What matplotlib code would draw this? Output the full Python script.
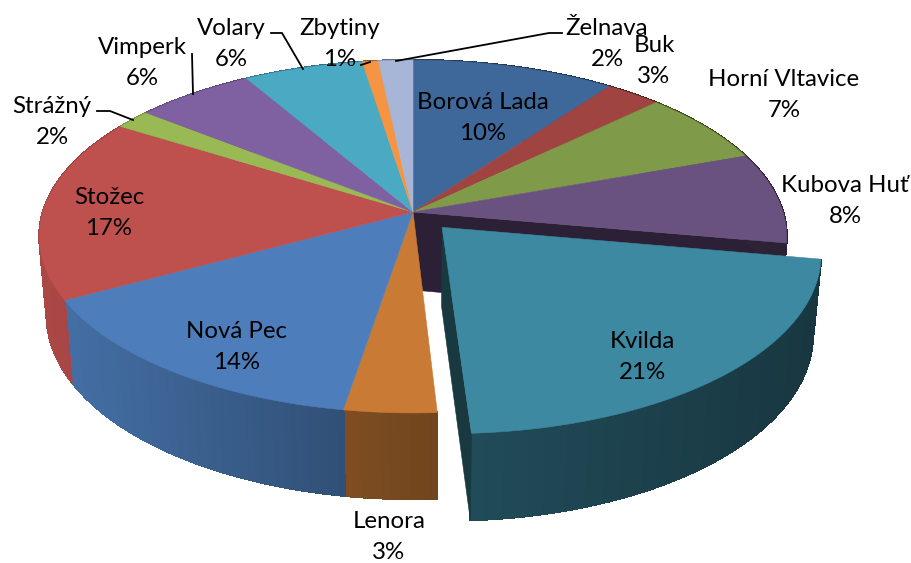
import numpy as np
import matplotlib
matplotlib.use("Agg")
import matplotlib.pyplot as plt
from matplotlib.colors import to_rgb

names = ["Borová Lada", "Buk", "Horní Vltavice", "Kubova Huť", "Kvilda", "Lenora", "Nová Pec",
         "Stožec", "Strážný", "Vimperk", "Volary", "Zbytiny", "Želnava"]
shares = [10.05, 2.75, 6.7, 8.3, 21.3, 3.5, 14.5, 16.8, 1.8, 5.9, 5.9, 0.8, 1.7]
percent_labels = ["10%", "3%", "7%", "8%", "21%", "3%", "14%", "17%", "2%", "6%", "6%", "1%", "2%"]
colors = ["#3F689A", "#A04442", "#7F9A48", "#69527F", "#3C89A1", "#C97B35", "#4D7EBB",
          "#BE504E", "#98B954", "#7F60A1", "#4AA9C3", "#F59443", "#A7B6D6"]

label_xy = [(483, 118), (654, 61), (784, 95), (845, 201), (642, 357), (389, 537), (237, 347),
            (109, 213), (52, 122), (142, 63), (231, 44), (340, 44), (607, 44)]
leaders = [[(97, 111), (110, 111), (133, 120)],
           [(192, 54), (193, 94)],
           [(271, 33), (282, 33), (303, 69)],
           [(361, 65), (370, 62)],
           [(396, 61), (549, 33), (562, 33)]]

CX, CY = 413, 212
A, B, K = 370, 173, 0.139
EXPLODE = 0.117
exploded = names.index("Kvilda")


def project(u, v):
    w = 1 + K * v
    return CX + A * u / w, CY - B * v / w


def drop(x, y):
    # point on the underside of the pie, below a point of the top face
    return CX + (x - CX) * 0.98, y + 78 + (y - CY) * 0.04


def shade(color, f):
    return tuple(c * f for c in to_rgb(color))


def wall_factor(x):
    return np.interp(x, [40, 345, 436, 470, 820], [0.9, 0.63, 0.56, 0.55, 0.4])


def wedge(start, end, du=0, dv=0):
    t = np.radians(np.linspace(start, end, max(int(end - start) * 2, 4)))
    return project(np.sin(t) + du, np.cos(t) + dv)


fig = plt.figure(figsize=(9.12, 5.63), dpi=100)
ax = fig.add_axes([0, 0, 1, 1])
ax.set_xlim(0, 912)
ax.set_ylim(563, 0)
ax.axis("off")

edges = np.cumsum([0] + shares) / sum(shares) * 360


def draw_wall(i, du=0, dv=0):
    x, y = wedge(edges[i], edges[i + 1], du, dv)
    xb, yb = drop(x, y)
    for j in range(len(x) - 1):
        c = shade(colors[i], wall_factor((x[j] + x[j + 1]) / 2))
        ax.fill([x[j], x[j + 1], xb[j + 1], xb[j]], [y[j], y[j + 1], yb[j + 1], yb[j]],
                color=c, lw=1.0, antialiased=False, zorder=2)


def draw_top(i, z, du=0, dv=0):
    x, y = wedge(edges[i], edges[i + 1], du, dv)
    ax0, ay0 = project(du, dv)
    ax.fill(np.r_[ax0, x], np.r_[ay0, y], color=colors[i], lw=0.4, zorder=z)


# inner face of Kubova Huť, seen through the gap
k = names.index("Kubova Huť")
x1, y1 = project(np.sin(np.radians(edges[k + 1])), np.cos(np.radians(edges[k + 1])))
xb, yb = drop(np.array([CX, x1]), np.array([CY, y1]))
ax.fill([CX, x1, xb[1], xb[0]], [CY, y1, yb[1], yb[0]], color="#2B2035", lw=0.4, zorder=1)

for i in range(len(names)):
    if i != exploded:
        draw_wall(i)
for i in range(len(names)):
    if i != exploded:
        draw_top(i, 3)

# pulled out slice
mid = np.radians((edges[exploded] + edges[exploded + 1]) / 2)
du, dv = EXPLODE * np.sin(mid), EXPLODE * np.cos(mid)
x, y = wedge(edges[exploded], edges[exploded + 1], du, dv)
px, py = project(du, dv)
pxb, pyb = drop(px, py)
xb, yb = drop(x, y)
ax.fill([px, x[-1], xb[-1], pxb], [py, y[-1], yb[-1], pyb], color="#17393F", lw=0.4, zorder=4)
draw_wall(exploded, du, dv)
draw_top(exploded, 5, du, dv)

for line in leaders:
    xs, ys = zip(*line)
    ax.plot(xs, ys, color="black", lw=1.3, zorder=6)

for name, pct, (tx, ty) in zip(names, percent_labels, label_xy):
    ax.text(tx, ty, name + "\n" + pct, ha="center", va="center", multialignment="center",
            fontsize=17.3, family="Lato", color="black", linespacing=1.58, zorder=7)

fig.savefig("out.png", dpi=100)
